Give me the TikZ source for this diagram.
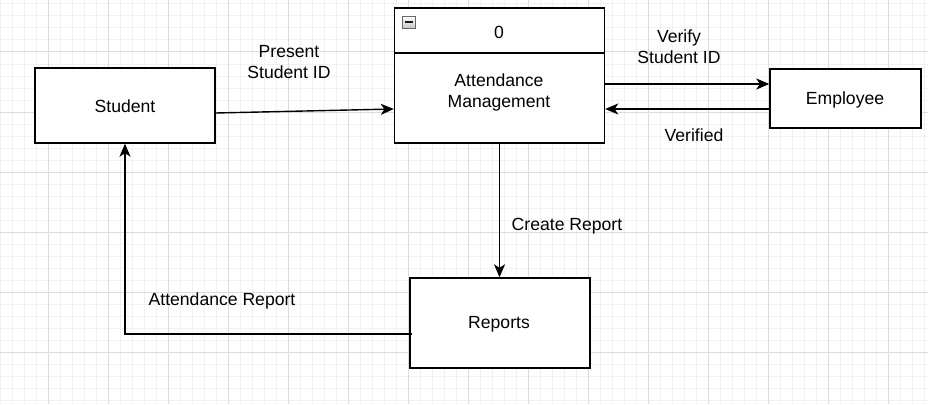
\documentclass[tikz,border=0pt]{standalone}
\usepackage{fontspec}
\setmainfont{Liberation Sans}
\usetikzlibrary{arrows.meta,calc}
\definecolor{gridminor}{RGB}{241,241,241}
\definecolor{gridmajor}{RGB}{220,220,220}
\begin{document}
\begin{tikzpicture}[x=1pt,y=-1pt,
  box/.style={draw=black,line width=1.4pt,fill=white,rectangle,inner sep=0pt},
  lbl/.style={align=center,font=\fontsize{17.6}{21}\selectfont,inner sep=0pt},
  flow/.style={line width=1.4pt,-{Stealth[length=13pt,width=11pt,inset=3.5pt]}},
]
\useasboundingbox (0,0) rectangle (928,404);
\fill[white] (0,0) rectangle (928,404);
% background grid: light minor lines, darker major lines
\foreach \x in {0,12,...,924} \draw[line width=1pt,gridminor] (\x,0) -- (\x,404);
\foreach \y in {4,16,...,400} \draw[line width=1pt,gridminor] (0,\y) -- (928,\y);
\foreach \x in {48,108,...,888} \draw[line width=1pt,gridmajor] (\x,0) -- (\x,404);
\foreach \y in {52,112,...,352} \draw[line width=1pt,gridmajor] (0,\y) -- (928,\y);

% entities and process
\node[box,minimum width=180pt,minimum height=75pt] (stu) at (125,105.5) {};
\node[lbl] (stuT) at (125,106.5) {Student};
\node[box,minimum width=151pt,minimum height=59pt] (emp) at (845.5,98.5) {};
\node[lbl] (empT) at (845,99.5) {Employee};
\node[box,minimum width=180pt,minimum height=90pt] (rep) at (500,323) {};
\node[lbl] (repT) at (499,324.5) {Reports};
\node[box,minimum width=210pt,minimum height=135pt] (proc) at (499.5,75.5) {};
\draw[line width=1.4pt] (proc.west |- 0,53) -- (proc.east |- 0,53);
\node[lbl] (procId) at (499,32.5) {0};
\node[lbl] (procT) at (499,92.5) {Attendance\\Management};
% collapse icon
\node[draw=gray!80!black,line width=0.8pt,top color=white,bottom color=gray!45,
      minimum width=13pt,minimum height=12pt,inner sep=0pt] (icon) at (408.5,22) {};
\draw[line width=1.6pt,gray!20!black] ($(icon.center)+(-4,0)$) -- ($(icon.center)+(4,0)$);

% flows
\draw[flow] ($(stu.east)+(0,7.5)$) -- ($(proc.west)+(0,33.5)$);
\draw[flow] ($(proc.east)+(0,8.5)$) -- ($(emp.west)+(0,-14.5)$);
\draw[flow] ($(emp.west)+(0,10.5)$) -- ($(proc.east)+(0,33.5)$);
\draw[flow] (proc.south) -- (proc.south |- rep.north);
\draw[flow] ($(rep.west)+(3,11)$) -| (stu.south);

% flow labels
\node[lbl] (l1) at (289,62) {Present\\Student ID};
\node[lbl] (l2) at (679,47) {Verify\\Student ID};
\node[lbl] (l3) at (694,135) {Verified};
\node[lbl] (l4) at (567,226) {Create Report};
\node[lbl] (l5) at (222,301) {Attendance Report};
\end{tikzpicture}
\end{document}
